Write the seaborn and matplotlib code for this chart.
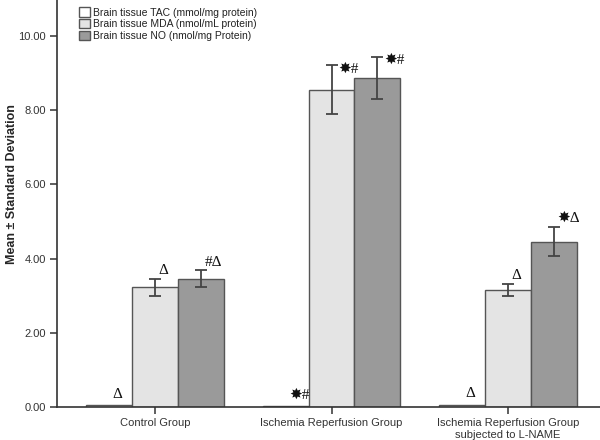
import numpy as np
import pandas as pd
import matplotlib
matplotlib.use('Agg')
import matplotlib.pyplot as plt
import seaborn as sns

# values
groups = ['Control Group', 'Ischemia Reperfusion Group',
          'Ischemia Reperfusion Group\nsubjected to L-NAME']
series = ['Brain tissue TAC (mmol/mg protein)',
          'Brain tissue MDA (nmol/mL protein)',
          'Brain tissue NO (nmol/mg Protein)']
tac = [0.05, 0.02, 0.06]
tac_sd = [0.01, 0.005, 0.01]
mda = [3.23, 8.55, 3.16]
mda_sd = [0.23, 0.66, 0.16]
no = [3.46, 8.87, 4.46]
no_sd = [0.22, 0.57, 0.39]
tac_marks = ['Δ', '✸#', 'Δ']
mda_marks = ['Δ', '✸#', 'Δ']
no_marks = ['#Δ', '✸#', '✸Δ']

colors = ['#ffffff', '#e4e4e4', '#9a9a9a']

df = pd.DataFrame({
    'group': groups * 3,
    'series': [s for s in series for _ in groups],
    'value': tac + mda + no,
})
sds = tac_sd + mda_sd + no_sd
marks = tac_marks + mda_marks + no_marks

sns.set_style('white')
plt.rcParams['font.family'] = ['Liberation Sans', 'DejaVu Sans']

fig = plt.figure(figsize=(6, 4.4), dpi=100)
# axis runs on past the top edge of the picture (y up to 12)
ax = fig.add_axes([0.095, 0.075, 0.905, 1.012])

sns.barplot(data=df, x='group', y='value', hue='series', palette=colors,
            errorbar=None, width=0.78, edgecolor='#555555', linewidth=1.0,
            ax=ax)

# error bars and significance marks on top of each bar
bars = [p for p in ax.patches if p.get_height() > 0][:len(df)]
for bar, sd, mk in zip(bars, sds, marks):
    cx = bar.get_x() + bar.get_width() / 2
    top = bar.get_height()
    if sd > 0.02:
        ax.errorbar(cx, top, yerr=sd, color='#444444', capsize=4.5,
                    elinewidth=1.3, capthick=1.3, fmt='none', zorder=3)
    if sd > 0.5:
        tx, ty, va = cx + 0.04, top + sd - 0.1, 'center'
    elif sd > 0.02:
        tx, ty, va = cx + 0.02, top + sd + 0.05, 'bottom'
    else:
        tx, ty, va = cx + 0.02, top + 0.12, 'bottom'
    ax.text(tx, ty, mk, ha='left', va=va, fontsize=11, color='#111111',
            family=['Liberation Serif', 'DejaVu Sans'])

ax.set_xlim(-0.554, 2.52)
ax.set_ylim(0, 12)
ax.set_yticks([0, 2, 4, 6, 8, 10])
ax.set_yticklabels(['0.00', '2.00', '4.00', '6.00', '8.00', '10.00'])
ax.set_xlabel('')
ax.set_ylabel('Mean ± Standard Deviation', fontsize=9, fontweight='bold')
ax.yaxis.set_label_coords(-0.072, 0.5)
ax.tick_params(axis='both', direction='out', length=5, width=1.1,
               color='#333333', labelsize=8, labelcolor='#333333', pad=3,
               bottom=True, left=True)
for side in ['top', 'right']:
    ax.spines[side].set_visible(False)
for side in ['left', 'bottom']:
    ax.spines[side].set_color('#333333')
    ax.spines[side].set_linewidth(1.2)

leg = ax.legend(loc='upper left', bbox_to_anchor=(0.12, 1.0),
                bbox_transform=fig.transFigure, frameon=False,
                fontsize=7.5, handlelength=1.0, handleheight=1.0,
                handletextpad=0.3, labelspacing=0.15, borderaxespad=0.3)
for t in leg.get_texts():
    t.set_color('#222222')

fig.savefig('out.png', dpi=100)
